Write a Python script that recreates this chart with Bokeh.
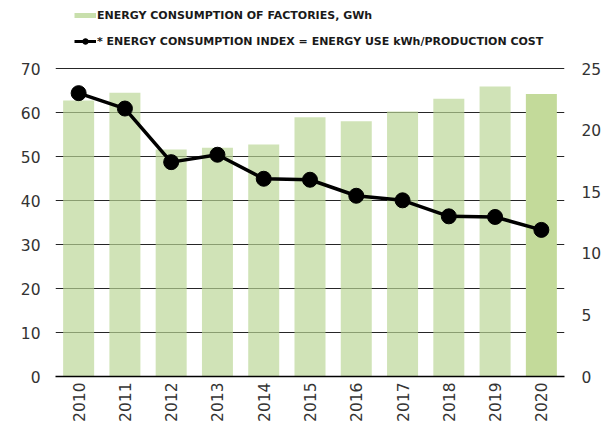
import math
from bokeh.plotting import figure
from bokeh.models import Range1d, LinearAxis, Legend, LegendItem, FixedTicker, ColumnDataSource
from bokeh.embed import file_html
from bokeh.resources import INLINE

years = ["2010", "2011", "2012", "2013", "2014", "2015", "2016", "2017", "2018", "2019", "2020"]
energy_gwh = [62.7, 64.5, 51.6, 52.0, 52.7, 58.9, 58.0, 60.2, 63.1, 65.9, 64.2]
energy_index = [23.0, 21.75, 17.4, 18.0, 16.05, 15.97, 14.67, 14.3, 13.0, 12.95, 11.9]
gwh_ticks = [0, 10, 20, 30, 40, 50, 60, 70]
index_ticks = [0, 5, 10, 15, 20, 25]
bar_colors = ["#b9d595"] * 10 + ["#c3da9a"]
bar_alphas = [0.68] * 10 + [1.0]

label_bars = "ENERGY CONSUMPTION OF FACTORIES, GWh"
label_line = "* ENERGY CONSUMPTION INDEX = ENERGY USE kWh/PRODUCTION COST"

FONT = "DejaVu Sans"

# frame occupies the full height above the x axis; the top part holds the legend
FRAME_H = 376.0
PX_PER_GWH = 308.0 / 70.0
gwh_max = FRAME_H / PX_PER_GWH
idx_max = 25.0 * gwh_max / 70.0

p = figure(x_range=years, y_range=Range1d(0, gwh_max), width=604, height=425,
           output_backend="svg", toolbar_location=None,
           min_border_left=55, min_border_right=39, min_border_top=0, min_border_bottom=49)
p.outline_line_color = None

p.extra_y_ranges = {"idx": Range1d(0, idx_max)}

src = ColumnDataSource(dict(x=years, top=energy_gwh, color=bar_colors, alpha=bar_alphas,
                            idx=energy_index))

bars = p.vbar(x="x", top="top", width=0.67, source=src, fill_color="color",
              fill_alpha="alpha", line_color=None)
line = p.line(x="x", y="idx", source=src, y_range_name="idx", line_color="black", line_width=3.5)
pts = p.scatter(x="x", y="idx", source=src, y_range_name="idx", size=15, fill_color="black",
                line_color="black")

# legend-only renderers (no visible data)
dummy = ColumnDataSource(dict(x=[years[0]], y=[float("nan")]))
leg_bar = p.line(x="x", y="y", source=dummy, line_color="#c8dfac", line_width=5)
leg_line = p.line(x="x", y="y", source=dummy, line_color="black", line_width=3)
leg_pt = p.scatter(x="x", y="y", source=dummy, size=6, fill_color="black", line_color="black")

p.yaxis.ticker = FixedTicker(ticks=gwh_ticks)
ly = p.yaxis[0]

ry = LinearAxis(y_range_name="idx", ticker=FixedTicker(ticks=index_ticks))
p.add_layout(ry, "right")

for ax, so in [(ly, 15), (ry, 17)]:
    ax.axis_line_color = None
    ax.major_tick_line_color = None
    ax.minor_tick_line_color = None
    ax.major_tick_out = 0
    ax.major_tick_in = 0
    ax.minor_tick_out = 0
    ax.major_label_standoff = so
    ax.major_label_text_font = FONT
    ax.major_label_text_font_size = "15.5px"
    ax.major_label_text_color = "#333333"

xa = p.xaxis[0]
xa.axis_line_color = "black"
xa.axis_line_width = 1.5
xa.major_tick_line_color = None
xa.minor_tick_line_color = None
xa.major_tick_out = 0
xa.major_tick_in = 0
xa.minor_tick_out = 0
xa.major_label_orientation = math.pi / 2
xa.major_label_standoff = 6
xa.major_label_text_font = FONT
xa.major_label_text_font_size = "15.5px"
xa.major_label_text_color = "#333333"

p.xgrid.grid_line_color = None
p.ygrid.grid_line_color = "#262626"
p.ygrid.grid_line_width = 1.2

legend = Legend(items=[LegendItem(label=label_bars, renderers=[leg_bar]),
                       LegendItem(label=label_line, renderers=[leg_line, leg_pt])],
                location=(19, 328), orientation="vertical",
                margin=0, padding=0, spacing=12,
                label_height=14, glyph_height=14, glyph_width=22, label_standoff=1,
                label_text_font=FONT, label_text_font_size="11px", label_text_font_style="bold",
                label_text_color="#1a1a1a", border_line_color=None, background_fill_alpha=0)
p.add_layout(legend)

open("out.html", "w").write(file_html(p, INLINE))
